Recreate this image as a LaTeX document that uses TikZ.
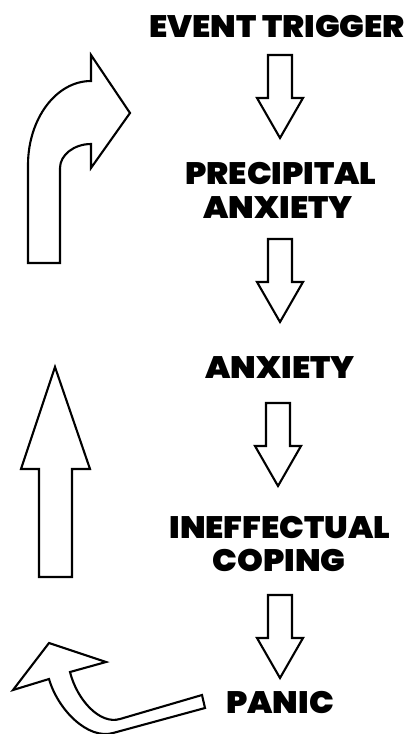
\documentclass[tikz,border=0pt]{standalone}
\usepackage{fontspec}
\IfFontExistsTF{Poppins Black}{\newfontfamily\heavy{Poppins Black}}{%
  \IfFontExistsTF{Lato Black}{\newfontfamily\heavy{Lato Black}}{%
    \newfontfamily\heavy{Liberation Sans}[UprightFont=* Bold]}}
\tikzset{
  blockline/.style={draw=black, line width=2.1pt, fill=white, line join=miter},
  label/.style={font=\heavy\fontsize{31}{34}\selectfont, inner sep=0pt, anchor=base, xscale=1.06, transform shape},
  downarr/.pic={\path[blockline] (-12,0) -- (12,0) -- (12,43) -- (23,43) -- (0,83) -- (-23,43) -- (-12,43) -- cycle;}
}
\begin{document}
\begin{tikzpicture}[x=1pt, y=-1pt]
\useasboundingbox (0,0) rectangle (415,734);
% labels
\node[label] (et) at (277,37) {EVENT TRIGGER};
\node[label] (pre) at (281,184) {PRECIPITAL};
\node[label] (anx1) at (278,218) {ANXIETY};
\node[label] (anx2) at (280,378) {ANXIETY};
\node[label] (inef) at (280,538) {INEFFECTUAL};
\node[label] (cop) at (279,571) {COPING};
\node[label] (pan) at (280,713) {PANIC};
% down block arrows
\pic at (280,55) {downarr};
\pic at (280,239) {downarr};
\pic at (278,403) {downarr};
\pic at (280,595) {downarr};
% bent arrow (top left)
\path[blockline] (28,263) -- (28,165) .. controls (28,119) and (56,81) .. (91,81)
  -- (91,55) -- (130,113) -- (91,168) -- (91,144)
  .. controls (74,144) and (60,155) .. (60,168) -- (60,263) -- cycle;
% straight up arrow
\path[blockline] (39,577) -- (39,469) -- (21,469) -- (55,367) -- (90,469) -- (72,469) -- (72,577) -- cycle;
% curved arrow (bottom left)
\path[blockline] (202,695) -- (120,719) .. controls (100,725) and (77,700) .. (70,672)
  -- (106,662) -- (49,643) -- (13,690) -- (49,679)
  .. controls (58,710) and (88,740) .. (113,733) -- (205,708) -- cycle;
\end{tikzpicture}
\end{document}
